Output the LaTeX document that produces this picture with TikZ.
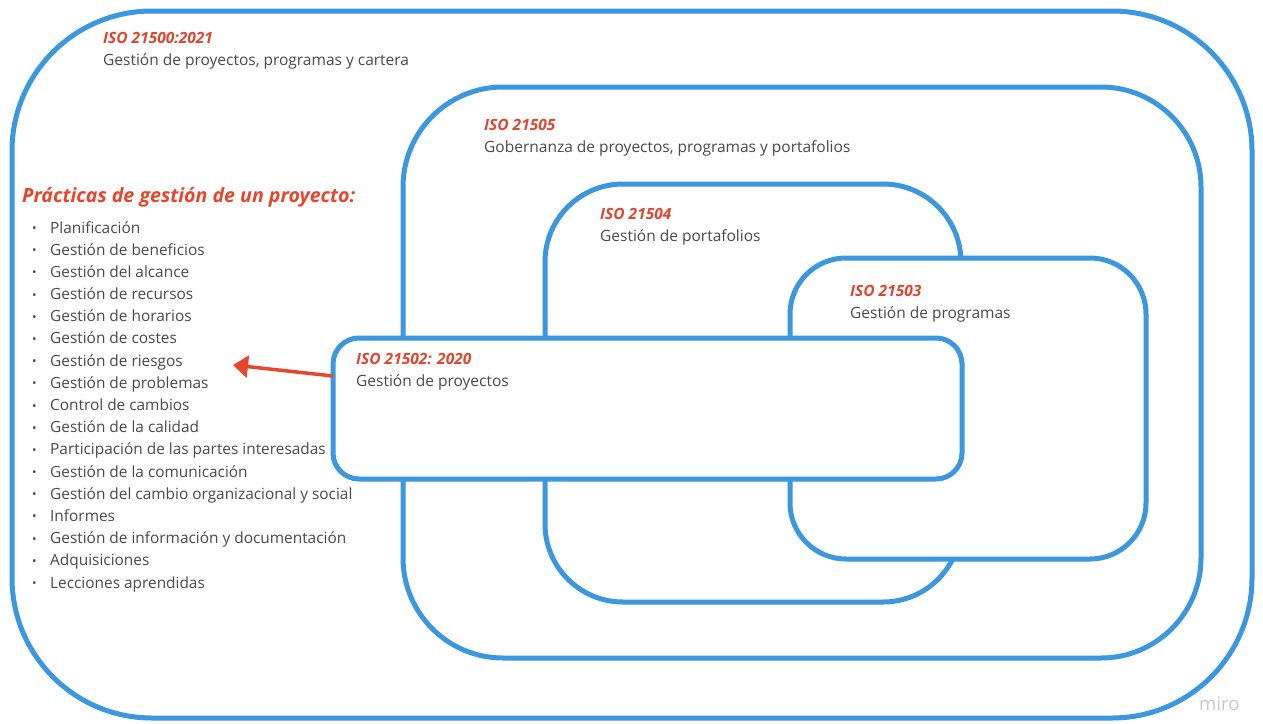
\documentclass[tikz,border=0pt]{standalone}
\usepackage{fontspec}
\setmainfont{Open Sans}
\usetikzlibrary{arrows.meta}

\definecolor{frameblue}{HTML}{3A97E0}
\definecolor{isored}{HTML}{E0452D}
\definecolor{arrowred}{HTML}{E8452C}
\definecolor{bodygray}{HTML}{4A4A4A}
\definecolor{markgray}{HTML}{C6C8CC}

\tikzset{
  stdframe/.style={draw=frameblue, line width=5pt, fill=white,
    inner sep=0pt, outer sep=0pt, rectangle, rounded corners=#1},
  stdtitle/.style={anchor=base west, inner sep=0pt, text=isored,
    font=\fontsize{15.5}{18}\selectfont\bfseries\itshape},
  stdsub/.style={anchor=base west, inner sep=0pt, text=bodygray,
    font=\fontsize{15.5}{18}\selectfont},
  practicehead/.style={anchor=base west, inner sep=0pt, text=arrowred,
    font=\fontsize{19.6}{23}\selectfont\bfseries\itshape},
  practiceitem/.style={anchor=base west, inner sep=0pt, text=bodygray,
    font=\fontsize{15.4}{18}\selectfont},
  pointer/.style={draw=arrowred, line width=3.5pt,
    -{Triangle[length=15pt,width=22pt]}},
}

\begin{document}
\begin{tikzpicture}[x=1pt,y=-1pt]
  % page
  \path[use as bounding box, fill=white] (0,0) rectangle (1263,723);

  % nested standard frames, outermost first
  \node[stdframe=140, minimum width=1240pt, minimum height=707pt] (p500) at (632,364.5) {};
  \node[stdframe=100, minimum width=798pt, minimum height=571pt] (p505) at (802,372.5) {};
  \node[stdframe=78, minimum width=416pt, minimum height=418pt] (p504) at (753,393) {};
  \node[stdframe=56, minimum width=356pt, minimum height=301pt] (p503) at (968,408.5) {};
  \node[stdframe=26, minimum width=629pt, minimum height=141pt] (p502) at (647.5,408.5) {};

  % standard labels
  \node[stdtitle] (t500) at (103,43) {ISO 21500:2021};
  \node[stdsub] (s500) at (103,65) {Gestión de proyectos, programas y cartera};
  \node[stdtitle] (t505) at (484,130) {ISO 21505};
  \node[stdsub] (s505) at (484,152) {Gobernanza de proyectos, programas y portafolios};
  \node[stdtitle] (t504) at (600,219) {ISO 21504};
  \node[stdsub] (s504) at (600,241) {Gestión de portafolios};
  \node[stdtitle] (t503) at (850,296) {ISO 21503};
  \node[stdsub] (s503) at (850,318) {Gestión de programas};
  \node[stdtitle] (t502) at (356,364) {ISO 21502: 2020};
  \node[stdsub] (s502) at (356,386) {Gestión de proyectos};

  % project management practices
  \node[practicehead] (phead) at (22,202) {Prácticas de gestión de un proyecto:};
  \foreach \txt [count=\i] in {Planificación, Gestión de beneficios,
      Gestión del alcance, Gestión de recursos, Gestión de horarios,
      Gestión de costes, Gestión de riesgos, Gestión de problemas,
      Control de cambios, Gestión de la calidad,
      Participación de las partes interesadas, Gestión de la comunicación,
      Gestión del cambio organizacional y social, Informes,
      Gestión de información y documentación, Adquisiciones,
      Lecciones aprendidas}
  {
    \node[practiceitem] (item\i) at (32,{233+(\i-1)*22.19})
      {\makebox[18pt][l]{\raisebox{0.5pt}{\fontsize{12}{12}\selectfont •}}\txt};
  }

  % pointer from the project standard to the list
  \coordinate (listtip) at (233,365);
  \draw[pointer] ([yshift=32.5pt]p502.west) -- (listtip);

  % watermark
  \node[anchor=base west, inner sep=0pt, text=markgray,
    font=\fontsize{18.5}{20}\selectfont] (mark) at (1199,710) {miro};
\end{tikzpicture}
\end{document}
